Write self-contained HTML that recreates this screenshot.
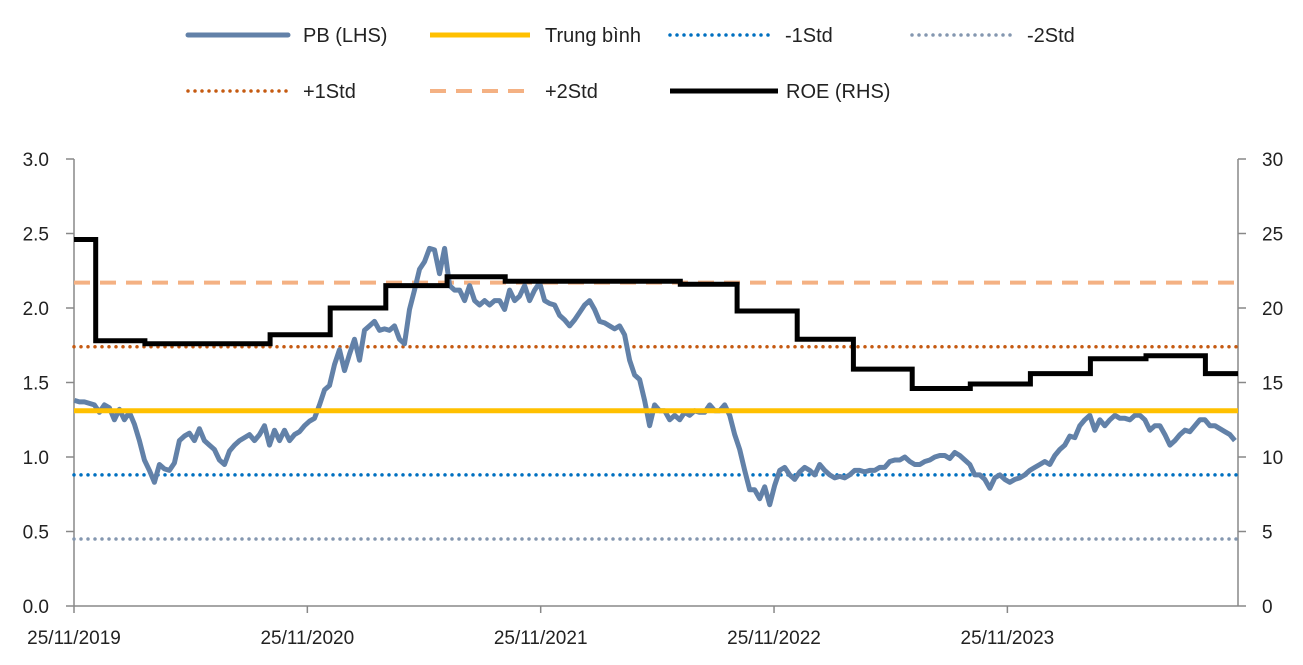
<!DOCTYPE html>
<html><head><meta charset="utf-8"><style>
body{margin:0;background:#fff;}
svg{display:block;font-family:"Liberation Sans",sans-serif;}
</style></head><body>
<svg id="chart" width="1303" height="665" viewBox="0 0 1303 665">
<g id="legend"></g>
<g id="grid"></g>
<g id="marks"></g>
</svg>
<script>
const xTickLabels=["25/11/2019","25/11/2020","25/11/2021","25/11/2022","25/11/2023"];
const leftTicks=[0,0.5,1.0,1.5,2.0,2.5,3.0];
const rightTicks=[0,5,10,15,20,25,30];
const pbStepDays=7.83;
const pbValues=[1.38,1.37,1.37,1.36,1.35,1.30,1.35,1.33,1.25,1.32,1.25,1.30,1.22,1.11,0.98,0.91,0.83,0.95,0.92,0.91,0.96,1.11,1.14,1.16,1.11,1.19,1.11,1.08,1.05,0.98,0.95,1.04,1.08,1.11,1.13,1.15,1.11,1.15,1.21,1.08,1.18,1.11,1.18,1.11,1.15,1.17,1.21,1.24,1.26,1.35,1.45,1.48,1.62,1.72,1.58,1.69,1.79,1.65,1.85,1.88,1.91,1.85,1.86,1.85,1.88,1.79,1.76,1.99,2.12,2.26,2.31,2.40,2.39,2.23,2.40,2.15,2.12,2.12,2.05,2.15,2.05,2.02,2.05,2.02,2.05,2.05,1.99,2.12,2.05,2.08,2.15,2.05,2.12,2.17,2.05,2.03,2.02,1.95,1.92,1.88,1.92,1.97,2.02,2.05,1.99,1.91,1.90,1.88,1.86,1.88,1.82,1.65,1.55,1.52,1.38,1.21,1.35,1.31,1.31,1.25,1.28,1.25,1.30,1.28,1.31,1.30,1.30,1.35,1.31,1.31,1.35,1.28,1.15,1.05,0.91,0.78,0.78,0.72,0.80,0.68,0.81,0.91,0.93,0.88,0.85,0.90,0.93,0.91,0.88,0.95,0.91,0.88,0.86,0.87,0.86,0.88,0.91,0.91,0.90,0.91,0.91,0.93,0.93,0.97,0.98,0.98,1.00,0.97,0.95,0.95,0.97,0.98,1.00,1.01,1.01,0.99,1.03,1.01,0.98,0.95,0.88,0.88,0.85,0.79,0.86,0.88,0.85,0.83,0.85,0.86,0.88,0.91,0.93,0.95,0.97,0.95,1.01,1.05,1.08,1.14,1.13,1.21,1.25,1.28,1.18,1.25,1.21,1.25,1.28,1.26,1.26,1.25,1.28,1.28,1.25,1.18,1.21,1.21,1.15,1.08,1.11,1.15,1.18,1.17,1.21,1.25,1.25,1.21,1.21,1.19,1.17,1.15,1.11];
const roeStartDays=[0,34,111,307,401,488,584,675,949,1038,1132,1220,1312,1403,1497,1591,1678,1771];
const roeValues=[24.6,17.8,17.6,18.2,20.0,21.5,22.1,21.8,21.6,19.8,17.9,15.9,14.6,14.9,15.6,16.6,16.8,15.6];
const roeEndDay=1822;
const meanValue=1.31, minus1=0.88, minus2=0.45, plus1=1.74, plus2=2.17;

const NS="http://www.w3.org/2000/svg";
const X0=74,X1=1238,Y0=606,Y1=159,TOTAL_DAYS=1822;
const xS=d=>X0+d/TOTAL_DAYS*(X1-X0);
const yL=v=>Y0-v/3*(Y0-Y1);
const yR=v=>Y0-v/30*(Y0-Y1);
function mk(tag,attrs,parent){const e=document.createElementNS(NS,tag);for(const k in attrs)e.setAttribute(k,attrs[k]);parent.appendChild(e);return e;}
const G=document.getElementById('grid'),M=document.getElementById('marks'),L=document.getElementById('legend');

// axes
let e=mk('line',{x1:X0,y1:Y1,x2:X0,y2:Y0,stroke:'#888','stroke-width':1.5},G);


e=mk('line',{x1:X1,y1:Y1,x2:X1,y2:Y0,stroke:'#888','stroke-width':1.5},G);


e=mk('line',{x1:X0,y1:Y0,x2:X1,y2:Y0,stroke:'#888','stroke-width':1.5},G);


leftTicks.forEach(v=>{
  mk('line',{x1:X0-8,y1:yL(v),x2:X0,y2:yL(v),stroke:'#888','stroke-width':1.5},G);
  const t=mk('text',{x:49,y:yL(v)+7,'text-anchor':'end','font-size':19,fill:'#222'},G);
  t.textContent=v.toFixed(1);
  
  
});
rightTicks.forEach(v=>{
  mk('line',{x1:X1,y1:yR(v),x2:X1+8,y2:yR(v),stroke:'#888','stroke-width':1.5},G);
  const t=mk('text',{x:1262,y:yR(v)+7,'font-size':19,fill:'#222'},G);
  t.textContent=v;
  
  
});
xTickLabels.forEach((s,i)=>{
  const x=xS(i*365.25);
  mk('line',{x1:x,y1:Y0,x2:x,y2:Y0+7,stroke:'#888','stroke-width':1.5},G);
  const t=mk('text',{x:x,y:644,'text-anchor':'middle','font-size':19,fill:'#222'},G);
  t.textContent=s;
  
  
});

// reference lines
const refs=[
 [plus2,'#f4b183','16 10','butt','plus-2std-line'],
 [plus1,'#c55a11','0 7','round','plus-1std-line'],
 [minus1,'#0070c0','0 7','round','minus-1std-line'],
 [minus2,'#8497b0','0 7','round','minus-2std-line']];
refs.forEach(r=>{
  const l=mk('line',{x1:X0,y1:yL(r[0]),x2:X1,y2:yL(r[0]),stroke:r[1],'stroke-width':r[3]==='round'?3.5:4,'stroke-dasharray':r[2],'stroke-linecap':r[3]},M);
  
  
});

// PB line
let pts=pbValues.map((v,i)=>xS(i*pbStepDays+0.6).toFixed(1)+','+yL(v).toFixed(1)).join(' ');
e=mk('polyline',{points:pts,fill:'none',stroke:'#6281a8','stroke-width':5,'stroke-linejoin':'round'},M);



// mean
e=mk('line',{x1:X0,y1:yL(meanValue),x2:X1,y2:yL(meanValue),stroke:'#ffc000','stroke-width':5},M);



// ROE step line
let rp=[];
roeValues.forEach((v,i)=>{
  const s=roeStartDays[i],en=i+1<roeStartDays.length?roeStartDays[i+1]:roeEndDay;
  rp.push(xS(s).toFixed(1)+','+yR(v).toFixed(1));
  rp.push(xS(en).toFixed(1)+','+yR(v).toFixed(1));
});
e=mk('polyline',{points:rp.join(' '),fill:'none',stroke:'#000','stroke-width':5},M);



// legend
const leg=[
 [188,35,'PB (LHS)','#6281a8',5,'','round','legend-pb'],
 [430,35,'Trung bình','#ffc000',5,'','butt','legend-mean'],
 [670,35,'-1Std','#0070c0',3.5,'0 7','round','legend-minus-1std'],
 [912,35,'-2Std','#8497b0',3.5,'0 7','round','legend-minus-2std'],
 [188,91,'+1Std','#c55a11',3.5,'0 7','round','legend-plus-1std'],
 [430,91,'+2Std','#f4b183',4,'16 10','butt','legend-plus-2std'],
 [670,91,'ROE (RHS)','#000',5,'','butt','legend-roe']];
leg.forEach(l=>{
  const g=mk('g',{},L);
  
  
  const a={x1:l[0],y1:l[1],x2:l[0]+(l[7]==='legend-roe'?108:100),y2:l[1],stroke:l[3],'stroke-width':l[4],'stroke-linecap':l[6]};
  if(l[5])a['stroke-dasharray']=l[5];
  mk('line',a,g);
  const t=mk('text',{x:l[0]+(l[7]==='legend-roe'?116:115),y:l[1]+7,'font-size':20,fill:'#222'},g);
  t.textContent=l[2];
});
</script>
</body></html>
